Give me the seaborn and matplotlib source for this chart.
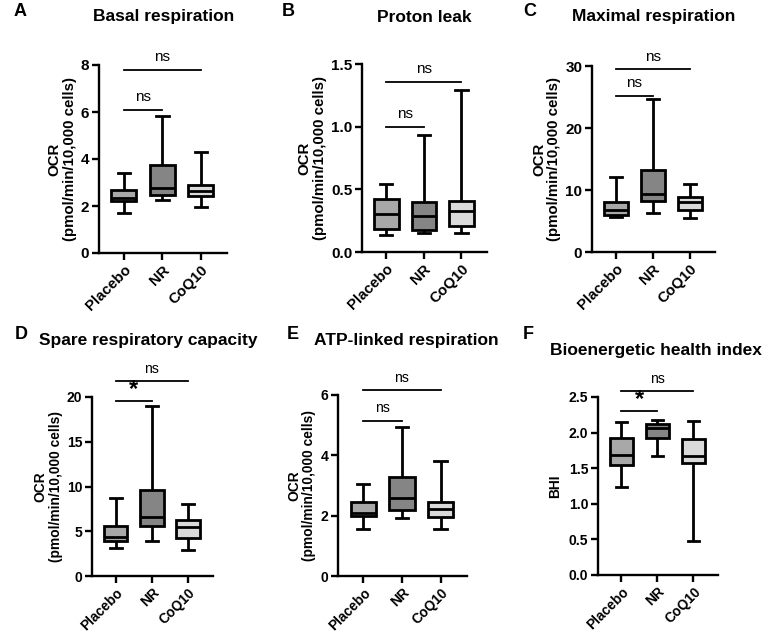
import numpy as np
import pandas as pd
import matplotlib
matplotlib.use("Agg")
import matplotlib.pyplot as plt
import seaborn as sns

# ── Dados (min, Q1, mediana, Q3, max) ────────────────────────────────────
groups = ["Placebo", "NR", "CoQ10"]
colors = ["#a8a8a8", "#858585", "#dadada"]

basal = [[1.72, 2.20, 2.35, 2.68, 3.42],
         [2.27, 2.48, 2.75, 3.75, 5.84],
         [1.95, 2.44, 2.62, 2.90, 4.30]]
proton = [[0.133, 0.18, 0.30, 0.425, 0.54],
          [0.152, 0.173, 0.285, 0.40, 0.936],
          [0.152, 0.205, 0.324, 0.404, 1.295]]
maximal = [[5.65, 5.9, 6.7, 8.0, 12.1],
           [6.3, 8.2, 9.4, 13.3, 24.6],
           [5.45, 6.85, 8.1, 8.8, 11.0]]
spare = [[3.16, 3.9, 4.39, 5.6, 8.74],
         [3.9, 5.6, 6.6, 9.6, 19.0],
         [2.9, 4.3, 5.5, 6.3, 8.1]]
atp = [[1.56, 1.98, 2.1, 2.45, 3.04],
       [1.93, 2.2, 2.57, 3.29, 4.93],
       [1.56, 1.96, 2.23, 2.44, 3.8]]
bhi = [[1.24, 1.55, 1.69, 1.93, 2.15],
       [1.67, 1.93, 2.06, 2.12, 2.17],
       [0.48, 1.57, 1.67, 1.91, 2.16]]

# (título, letra, dados, yticks, formato, ylabel, sig curto, sig longo, y curto, y longo)
panels = [
    ("Basal respiration", "A", basal, [0, 2, 4, 6, 8], "{:g}", "ocr", "ns", "ns", 6.1, 7.8),
    ("Proton leak", "B", proton, [0, 0.5, 1.0, 1.5], "{:.1f}", "ocr", "ns", "ns", 1.0, 1.36),
    ("Maximal respiration", "C", maximal, [0, 10, 20, 30], "{:g}", "ocr", "ns", "ns", 25.2, 29.5),
    ("Spare respiratory capacity", "D", spare, [0, 5, 10, 15, 20], "{:g}", "ocr", "*", "ns", 19.5, 21.8),
    ("ATP-linked respiration", "E", atp, [0, 2, 4, 6], "{:g}", "ocr", "ns", "ns", 5.15, 6.15),
    ("Bioenergetic health index", "F", bhi, [0, 0.5, 1.0, 1.5, 2.0, 2.5], "{:.1f}", "bhi", "*", "ns", 2.3, 2.58),
]

# posições em pixels: (x0, x1, y_top, y_bottom)
W, H = 774, 635
axes_px = [(99, 227, 65, 253), (362, 487, 64, 252), (592, 715, 66, 252),
           (92, 213, 397, 576), (338, 467, 395, 576), (598, 718, 397, 575)]
title_px = [(164, 17), (424, 17), (654, 17), (148, 341), (406, 341), (656, 351)]
letter_px = [(14, 12), (282, 12), (523, 12), (15, 335), (287, 335), (523, 335)]

plt.rcParams["font.family"] = ["Liberation Sans", "DejaVu Sans"]
plt.rcParams["font.weight"] = "bold"

fig = plt.figure(figsize=(W / 100, H / 100), dpi=100)

for i, (title, letter, data, yt, fmt, ylab, s1, s2, y1, y2) in enumerate(panels):
    x0, x1, yt_px, yb_px = axes_px[i]
    ax = fig.add_axes([x0 / W, 1 - yb_px / H, (x1 - x0) / W, (yb_px - yt_px) / H])
    fs = 1.0 if i < 3 else 0.92  # linha de baixo um pouco menor

    df = pd.DataFrame({
        "grupo": np.repeat(groups, 5),
        "valor": np.concatenate(data),
    })
    sns.boxplot(data=df, x="grupo", y="valor", hue="grupo", palette=colors,
                whis=(0, 100), width=0.65, linewidth=2.0, linecolor="black",
                showfliers=False, legend=False, ax=ax)

    ax.set_xlim(-0.65, 2.68)
    ax.set_ylim(yt[0], yt[-1])
    ax.set_yticks(yt)
    ax.set_yticklabels([fmt.format(v) for v in yt], fontsize=11 * fs, fontweight="bold")
    ax.set_xticks([0, 1, 2])
    ax.set_xticklabels(groups, rotation=45, ha="right", rotation_mode="anchor",
                       fontsize=10.8 * fs, fontweight="bold")
    ax.set_xlabel("")
    if ylab == "ocr":
        ax.set_ylabel("OCR\n(pmol/min/10,000 cells)", fontsize=10.8 * fs,
                      fontweight="bold", labelpad=3, linespacing=1.1)
    else:
        ax.set_ylabel("BHI", fontsize=10.8 * fs, fontweight="bold", labelpad=5)

    for sp in ["top", "right"]:
        ax.spines[sp].set_visible(False)
    for sp in ["left", "bottom"]:
        ax.spines[sp].set_linewidth(1.7)
    ax.tick_params(direction="out", width=1.7, length=5, pad=2)

    # barras de significância
    yr = yt[-1] - yt[0]
    ax.plot([0, 1], [y1, y1], color="black", lw=1.3, clip_on=False)
    ax.plot([0, 2], [y2, y2], color="black", lw=1.3, clip_on=False)
    for x, y, s in [(0.5, y1, s1), (1.0, y2, s2)]:
        if s == "*":
            ax.text(x, y, s, ha="center", va="bottom", fontsize=17,
                    fontweight="bold")
        else:
            ax.text(x, y + yr * 0.03, s, ha="center", va="bottom", fontsize=11 * fs,
                    fontweight="normal")

    fig.text(title_px[i][0] / W, 1 - title_px[i][1] / H, title, ha="center",
             va="center", fontsize=12.5, fontweight="bold")
    fig.text(letter_px[i][0] / W, 1 - letter_px[i][1] / H, letter, ha="left",
             va="center", fontsize=13, fontweight="bold")

fig.savefig("out.png", dpi=100)
